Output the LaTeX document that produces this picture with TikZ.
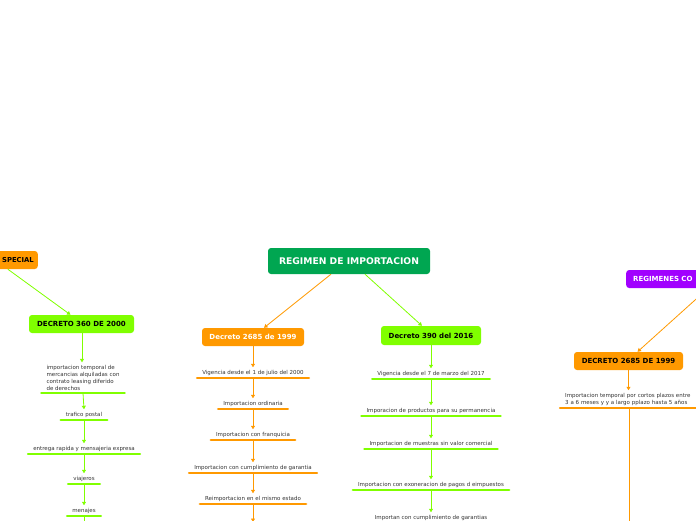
\documentclass[tikz,border=0pt]{standalone}
\usepackage{fontspec}
\setmainfont{DejaVu Sans}
\usetikzlibrary{arrows.meta}
\definecolor{mmorange}{HTML}{FF9900}
\definecolor{mmlime}{HTML}{80FF00}
\definecolor{mmgreen}{HTML}{00A651}
\definecolor{mmpurple}{HTML}{A100FF}
\definecolor{mmtext}{HTML}{333333}
\begin{document}
\begin{tikzpicture}[x=1pt,y=-1pt,
  topic/.style={rounded corners=3pt,font=\bfseries\fontsize{7}{8.5}\selectfont,inner xsep=6pt,minimum height=18pt},
  leaf/.style={anchor=south,font=\fontsize{5.5}{7}\selectfont,text=mmtext,inner xsep=5pt,inner ysep=2.5pt},
  link/.style={-{Triangle[width=4pt,length=3.5pt]},line width=0.8pt},
  uline/.style={line width=2.5pt,line cap=round}]
\useasboundingbox (0,0) rectangle (696,520);

% central topic and main branches
\node[topic,fill=mmgreen,text=white,font=\bfseries\fontsize{9.2}{11}\selectfont,minimum width=162pt,minimum height=26pt] (main) at (349,261) {REGIMEN DE IMPORTACION};
\node[topic,fill=mmorange,text=white,minimum width=102pt] (d2685) at (253,337) {Decreto 2685 de 1999};
\node[topic,fill=mmlime,minimum width=100pt,minimum height=19pt] (d390) at (431,335.5) {Decreto 390 del 2016};
\node[topic,fill=mmorange,anchor=east,text width=60pt,align=right,inner xsep=4pt,font=\bfseries\fontsize{6.8}{8.5}\selectfont] (esp) at (38,260) {SPECIAL};
\node[topic,fill=mmlime,minimum width=105pt] (d360) at (81.5,324) {DECRETO 360 DE 2000};
\node[topic,fill=mmpurple,text=white,anchor=west,text width=150pt,align=left,inner xsep=7pt] (regco) at (626,279) {REGIMENES CO};
\node[topic,fill=mmorange,minimum width=109pt] (d2685b) at (628.5,361) {DECRETO 2685 DE 1999};

\draw[link,mmorange] ([xshift=-18pt]main.south) -- ([xshift=11pt]d2685.north);
\draw[link,mmlime] ([xshift=16pt]main.south) -- ([xshift=-9pt]d390.north);
\draw[link,mmlime] ([xshift=4pt]esp.south) -- ([xshift=-11pt]d360.north);
\draw[link,mmorange] (regco.south) -- ([xshift=9pt]d2685b.north);

% decreto 2685 de 1999
\node[leaf] (o1) at (253,378) {Vigencia desde el 1 de julio del 2000};
\node[leaf] (o2) at (253,409) {Importacion ordinaria};
\node[leaf] (o3) at (253,440) {Importacion con franquicia};
\node[leaf] (o4) at (253,473) {Importacion con cumplimiento de garantia};
\node[leaf] (o5) at (253,504) {Reimportacion en el mismo estado};
\coordinate (odown) at (253,522);
\foreach \n in {o1,o2,o3,o4,o5}
  \draw[uline,mmorange] (\n.south west) -- (\n.south east);
\foreach \a/\b in {d2685/o1,o1/o2,o2/o3,o3/o4,o4/o5}
  \draw[link,mmorange] (\a.south) -- (\b.north);
\draw[link,mmorange] (o5.south) -- (odown);

% decreto 390 del 2016
\node[leaf] (g1) at (431,379) {Vigencia desde el 7 de marzo del 2017};
\node[leaf] (g2) at (431,416) {Imporacion de productos para su permanencia};
\node[leaf] (g3) at (431,449) {Importacion de muestras sin valor comercial};
\node[leaf] (g4) at (431,490) {Importacion con exoneracion de pagos d eimpuestos};
\node[leaf] (g5) at (431,523) {Importan con cumplimiento de garantias};
\foreach \n in {g1,g2,g3,g4,g5}
  \draw[uline,mmlime] (\n.south west) -- (\n.south east);
\foreach \a/\b in {d390/g1,g1/g2,g2/g3,g3/g4,g4/g5}
  \draw[link,mmlime] (\a.south) -- (\b.north);

% decreto 360 de 2000
\node[leaf,align=left] (l1) at (83,393) {importacion temporal de\\mercancias alquiladas con\\contrato leasing diferido\\de derechos};
\node[leaf] (l2) at (84,420) {trafico postal};
\node[leaf] (l3) at (84,454) {entrega rapida y mensajeria expresa};
\node[leaf] (l4) at (84,484) {viajeros};
\node[leaf] (l5) at (84,516) {menajes};
\coordinate (ldown) at (84,535);
\foreach \n in {l1,l2,l3,l4,l5}
  \draw[uline,mmlime] (\n.south west) -- (\n.south east);
\draw[link,mmlime] ([xshift=0.5pt]d360.south) -- ([xshift=-1pt]l1.north);
\foreach \a/\b in {l1/l2,l2/l3,l3/l4,l4/l5}
  \draw[link,mmlime] (\a.south) -- (\b.north);
\draw[link,mmlime] (l5.south) -- (ldown);

% regimenes co...
\node[leaf,anchor=south west,text width=150pt,align=left] (r1) at (560,408) {Importacion temporal por cortos plazos entre\\3 a 6 meses y y a largo pplazo hasta 5 años};
\coordinate (rdown) at (629.5,530);
\draw[uline,mmorange] (r1.south west) -- (r1.south east);
\draw[link,mmorange] (d2685b.south) -- (d2685b.south |- r1.north);
\draw[line width=1.2pt,mmorange] (rdown |- r1.south) -- (rdown);
\end{tikzpicture}
\end{document}
